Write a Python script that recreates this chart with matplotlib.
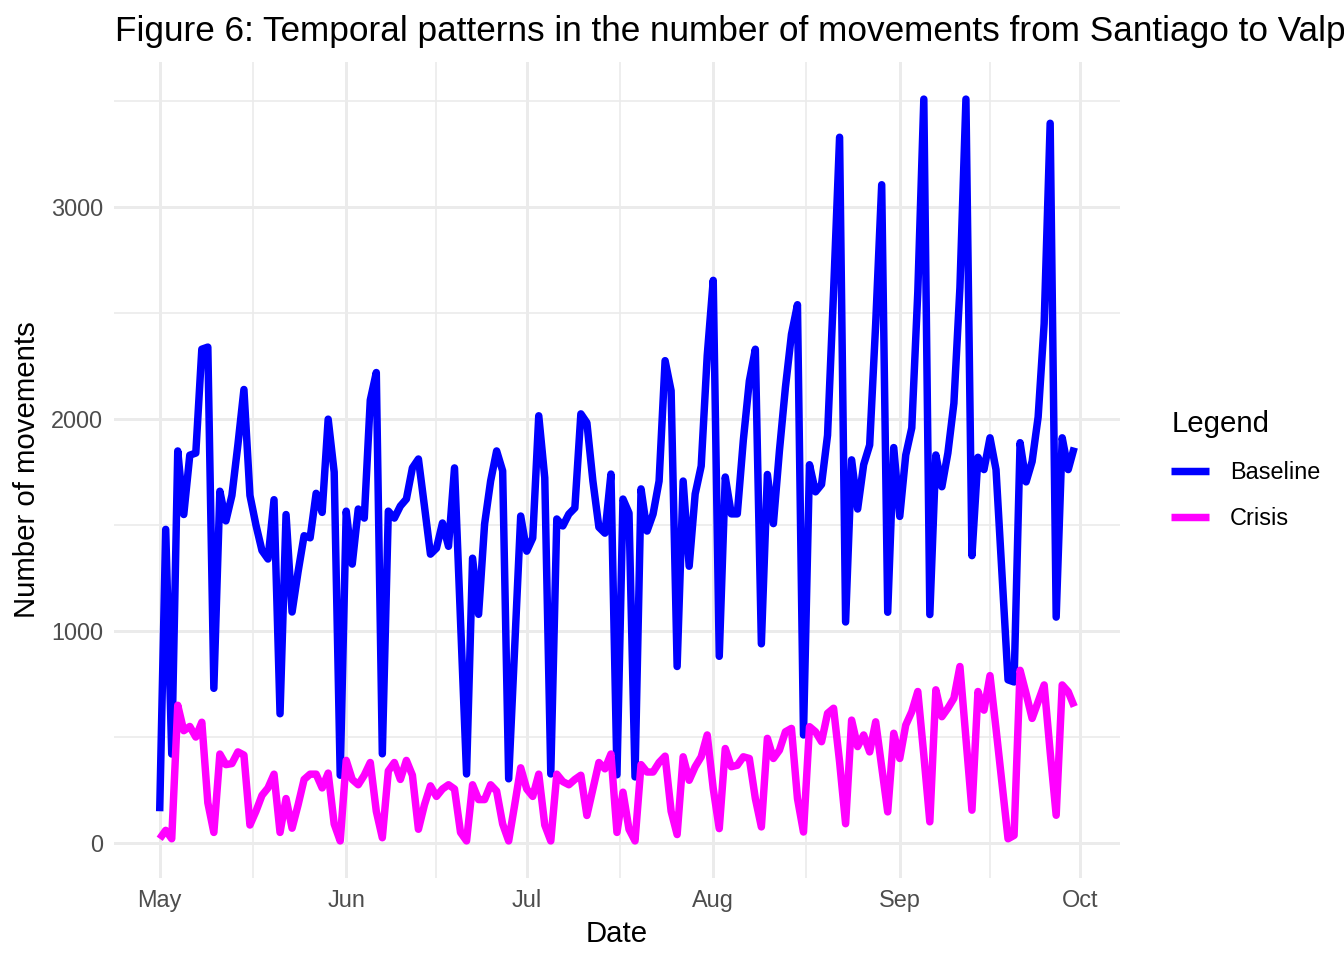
#!/usr/bin/env python3
"""Figure 6: daily movements Santiago -> Valparaiso, baseline vs crisis."""

import matplotlib

matplotlib.use("Agg")
import matplotlib.dates as mdates
import matplotlib.pyplot as plt
import pandas as pd

START_DATE = "2020-05-01"

# values, one per day from May 1 to Sep 30
baseline = [
    150, 1480, 420, 1850, 1550, 1830, 1840, 2330, 2340, 730,
    1660, 1520, 1640, 1880, 2140, 1640, 1500, 1380, 1340, 1620,
    610, 1550, 1090, 1280, 1450, 1440, 1650, 1560, 2000, 1750,
    320, 1566, 1316, 1576, 1533, 2090, 2220, 421, 1566, 1533,
    1590, 1623, 1770, 1812, 1590, 1363, 1391, 1510, 1400, 1770,
    1050, 326, 1344, 1079, 1505, 1708, 1850, 1756, 303, 920,
    1543, 1377, 1439, 2016, 1723, 326, 1529, 1496, 1552, 1581,
    2025, 1983, 1708, 1490, 1462, 1741, 322, 1623, 1557, 312,
    1671, 1472, 1552, 1708, 2276, 2134, 833, 1708, 1306, 1647,
    1779, 2300, 2655, 881, 1727, 1553, 1553, 1900, 2180, 2330,
    940, 1739, 1507, 1850, 2150, 2400, 2540, 510, 1785, 1657,
    1692, 1924, 2600, 3330, 1043, 1808, 1576, 1785, 1878, 2450,
    3106, 1089, 1866, 1541, 1831, 1959, 2600, 3510, 1078, 1831,
    1681, 1840, 2075, 2620, 3510, 1356, 1820, 1762, 1912, 1762,
    1270, 770, 760, 1889, 1704, 1800, 2010, 2450, 3396, 1066,
    1912, 1762, 1866,
]

crisis = [
    20, 60, 20, 650, 530, 550, 500, 570, 190, 50,
    420, 370, 375, 430, 415, 85, 150, 225, 260, 325,
    50, 210, 70, 180, 300, 325, 325, 260, 330, 90,
    10, 390, 300, 275, 320, 380, 150, 25, 340, 380,
    300, 390, 320, 65, 180, 270, 220, 255, 275, 255,
    50, 10, 275, 205, 205, 275, 245, 90, 10, 180,
    355, 255, 220, 325, 85, 10, 325, 290, 275, 300,
    320, 130, 255, 380, 350, 420, 50, 240, 65, 10,
    370, 335, 335, 380, 410, 150, 40, 407, 296, 360,
    407, 510, 257, 68, 446, 360, 367, 407, 399, 210,
    76, 494, 399, 438, 525, 541, 210, 52, 549, 525,
    478, 612, 636, 383, 91, 580, 455, 510, 430, 572,
    360, 147, 518, 399, 557, 620, 715, 415, 100, 723,
    596, 636, 683, 833, 494, 155, 715, 627, 790, 540,
    280, 20, 36, 815, 705, 588, 667, 746, 430, 131,
    746, 714, 644,
]

series_labels = ["Baseline", "Crisis"]
series_colors = ["#0000FF", "#FF00FF"]
month_labels = ["May", "Jun", "Jul", "Aug", "Sep", "Oct"]

TITLE = "Figure 6: Temporal patterns in the number of movements from Santiago to Valparaíso"

plt.rcParams["font.family"] = ["Liberation Sans", "DejaVu Sans"]

dates = pd.date_range(START_DATE, periods=len(baseline), freq="D")
month_starts = pd.date_range(START_DATE, periods=len(month_labels), freq="MS")

fig = plt.figure(figsize=(7, 5), dpi=192)
ax = fig.add_axes([0.0848, 0.0854, 0.7485, 0.85])

for values, label, color in zip([baseline, crisis], series_labels, series_colors):
    ax.plot(dates, values, color=color, lw=2.8, label=label,
            solid_joinstyle="round", solid_capstyle="butt")

ax.margins(x=0.05, y=0.05)

# ggplot theme_minimal look
major_x = mdates.date2num(month_starts)
minor_x = (major_x[:-1] + major_x[1:]) / 2
ax.set_xticks(major_x)
ax.set_xticklabels(month_labels)
ax.set_xticks(minor_x, minor=True)
ax.set_yticks([0, 1000, 2000, 3000])
ax.set_yticks([500, 1500, 2500, 3500], minor=True)

ax.grid(which="major", color="#EBEBEB", lw=1.1)
ax.grid(which="minor", color="#EBEBEB", lw=0.6)
ax.set_axisbelow(True)
for spine in ax.spines.values():
    spine.set_visible(False)
ax.tick_params(which="both", length=0, labelsize=8.8, labelcolor="#4D4D4D", pad=4)

ax.set_xlabel("Date", fontsize=11, labelpad=3)
ax.set_ylabel("Number of movements", fontsize=11, labelpad=4)

fig.text(115 / 1344, 1 - 31 / 960, TITLE, fontsize=13.2, ha="left", va="center")

leg = ax.legend(
    loc="center left", bbox_to_anchor=(1.03, 0.5), frameon=False,
    title="Legend", title_fontsize=11, fontsize=8.8,
    handlelength=1.6, handletextpad=0.9, labelspacing=1.0,
)
leg._legend_box.align = "left"

fig.savefig("out.png", dpi=192)
